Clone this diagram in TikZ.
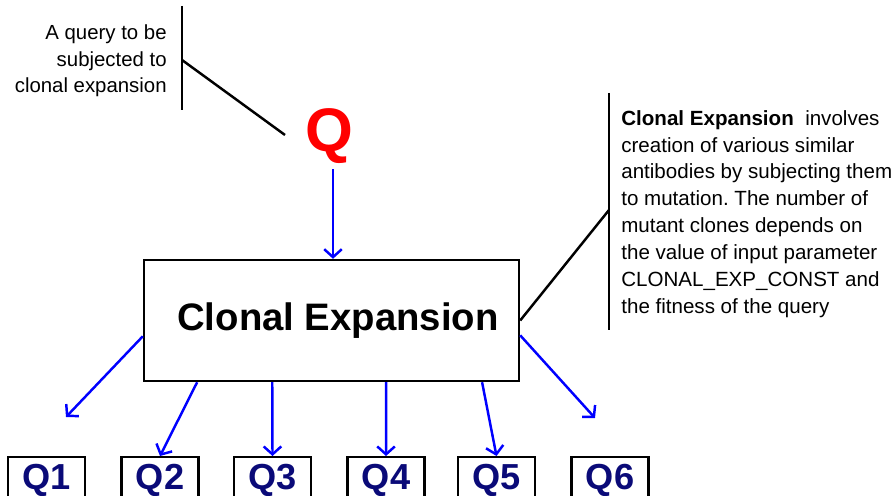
\documentclass[tikz,border=0pt]{standalone}
\usepackage{fontspec}
\setmainfont{Liberation Sans}
\frenchspacing
\usetikzlibrary{arrows.meta,calc}
\definecolor{qnavy}{RGB}{10,10,120}
\tikzset{
  arr/.style={draw=blue, line width=1.4pt, -{Straight Barb[length=4.5pt,width=10pt]}},
  callout/.style={draw=black, line width=1.4pt},
  qbox/.style={draw, line width=1.4pt, inner xsep=0pt, inner ysep=0.12cm, minimum width=1.54cm,
    text height=0.52cm, text depth=0.4cm, font=\fontsize{20.6}{24}\selectfont\bfseries, text=qnavy}
}
\begin{document}
\begin{tikzpicture}[x=0.02cm,y=-0.02cm]
    \clip (0,0) rectangle (896,496);
    % query and the clonal expansion step
    \node[text=red, font=\fontsize{35}{40}\selectfont\bfseries, inner sep=0.1cm, anchor=base] (q) at (329,152) {Q};
    \node[draw, line width=1.4pt, minimum width=7.5cm, minimum height=2.42cm, font=\fontsize{21.8}{26}\selectfont\bfseries] (ce) at (331.5,320.5) {\hspace{0.26cm}Clonal Expansion};
    % clones
    \node[qbox, anchor=north] (q1) at (46.5,456) {Q1};
    \node[qbox, anchor=north] (q2) at (160,456) {Q2};
    \node[qbox, anchor=north] (q3) at (272.5,456) {Q3};
    \node[qbox, anchor=north] (q4) at (386,456) {Q4};
    \node[qbox, anchor=north] (q5) at (496.5,456) {Q5};
    \node[qbox, anchor=north] (q6) at (610,456) {Q6};
    \coordinate (f1) at (66,417);
    \coordinate (f6) at (595,418);
    % arrows
    \draw[arr] ([xshift=0.08cm]q.south) -- ([xshift=0.08cm]q.south |- ce.north);
    \draw[arr] ($(ce.north west)!0.628!(ce.south west)$) -- (f1);
    \draw[arr] ($(ce.south west)!0.144!(ce.south east)$) -- (q2.north);
    \draw[arr] ($(ce.south west)!0.343!(ce.south east)$) -- (q3.north);
    \draw[arr] ($(ce.south west)!0.645!(ce.south east)$) -- (q4.north);
    \draw[arr] ($(ce.south west)!0.899!(ce.south east)$) -- (q5.north);
    \draw[arr] ($(ce.north east)!0.62!(ce.south east)$) -- (f6);
    % left note
    \node[anchor=east, align=right, inner sep=0pt, font=\fontsize{11.6}{15.2}\selectfont] (lnote) at (167,61) {A query to be\\subjected to\\clonal expansion};
    \coordinate (lt) at (182,6);
    \coordinate (lb) at (182,110);
    \coordinate (lm) at (182,60);
    \coordinate (lq) at (285,135);
    \draw[callout] (lt) -- (lb);
    \draw[callout] (lm) -- (lq);
    % right note
    \node[anchor=west, align=left, inner sep=0pt, font=\fontsize{11.7}{15.3}\selectfont] (rnote) at (621,214) {\textbf{Clonal Expansion}~ involves\\creation of various similar\\antibodies by subjecting them\\to mutation. The number of\\mutant clones depends on\\the value of input parameter\\CLONAL\_EXP\_CONST and\\the fitness of the query};
    \coordinate (rt) at (609,93);
    \coordinate (rb) at (609,330);
    \coordinate (rm) at (609,210);
    \draw[callout] (rt) -- (rb);
    \draw[callout] (rm) -- (ce.east);
\end{tikzpicture}
\end{document}
